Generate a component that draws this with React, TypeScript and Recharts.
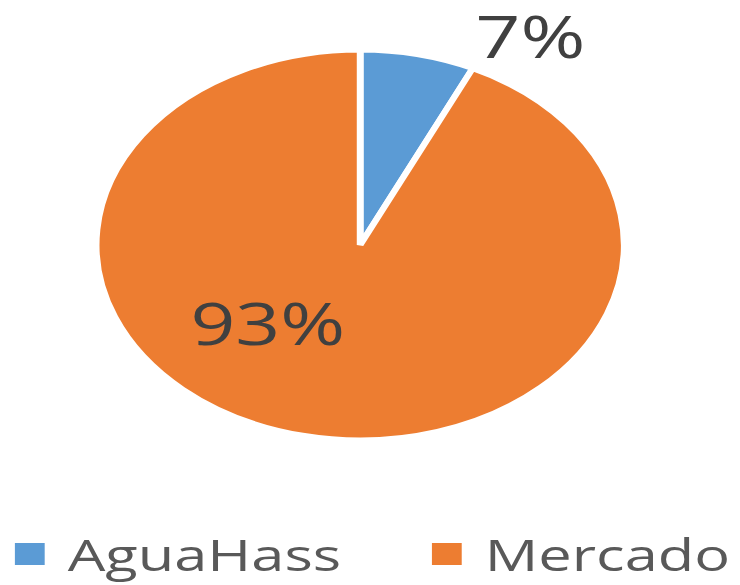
import { Cell, Legend, Pie, PieChart } from "recharts";

const categories: string[] = ["AguaHass", "Mercado"];
const shares: number[] = [7, 93];
const COLORS: string[] = ["#5B9BD5", "#ED7D31"];

const data = categories.map((name, i) => ({ name, value: shares[i] }));

// the reference is stretched sideways, so draw a round pie and widen it
const SX = 1.354;
const W = 547;
const H = 585;

// where each percent label sits, as a fraction of the radius from the centre
const LABEL_POS = [
    { dx: 0.645, dy: -0.96 },
    { dx: -0.35, dy: 0.515 },
];

const renderLabel = (props: any) => {
    const { cx, cy, outerRadius, index, value } = props;
    const p = LABEL_POS[index];
    return (
        <text
            x={cx + p.dx * outerRadius}
            y={cy + p.dy * outerRadius}
            fill="#404040"
            fontSize={58}
            fontFamily="'Open Sans', sans-serif"
            textAnchor="middle"
        >
            {`${value}%`}
        </text>
    );
};

const renderLegend = (props: any) => {
    const { payload } = props;
    return (
        <div style={{ display: "flex", fontFamily: "'Open Sans', sans-serif", color: "#595959", fontSize: 44 }}>
            {payload.map((entry: any, i: number) => (
                <div key={`leg-${i}`} style={{ display: "flex", alignItems: "center", marginLeft: i === 0 ? 11 : 0, width: i === 0 ? 308 : "auto" }}>
                    <span style={{ display: "inline-block", width: 22, height: 22, background: entry.color, marginRight: 17 }} />
                    <span>{entry.value}</span>
                </div>
            ))}
        </div>
    );
};

export default function App() {
    return (
        <div style={{ position: "fixed", left: 0, top: 0, width: W, height: H, transform: `scaleX(${SX})`, transformOrigin: "0 0", background: "#fff" }}>
            <PieChart width={W} height={H} margin={{ top: 0, right: 0, bottom: 0, left: 0 }}>
                <Pie
                    data={data}
                    dataKey="value"
                    nameKey="name"
                    cx={266}
                    cy={245}
                    outerRadius={195}
                    startAngle={90}
                    endAngle={-270}
                    stroke="#fff"
                    strokeWidth={5}
                    label={renderLabel}
                    labelLine={false}
                    isAnimationActive={false}
                >
                    {data.map((entry, i) => (
                        <Cell key={`cell-${i}`} fill={COLORS[i % COLORS.length]} />
                    ))}
                </Pie>
                <Legend content={renderLegend} wrapperStyle={{ left: 0, top: 524, width: W }} />
            </PieChart>
        </div>
    );
}
